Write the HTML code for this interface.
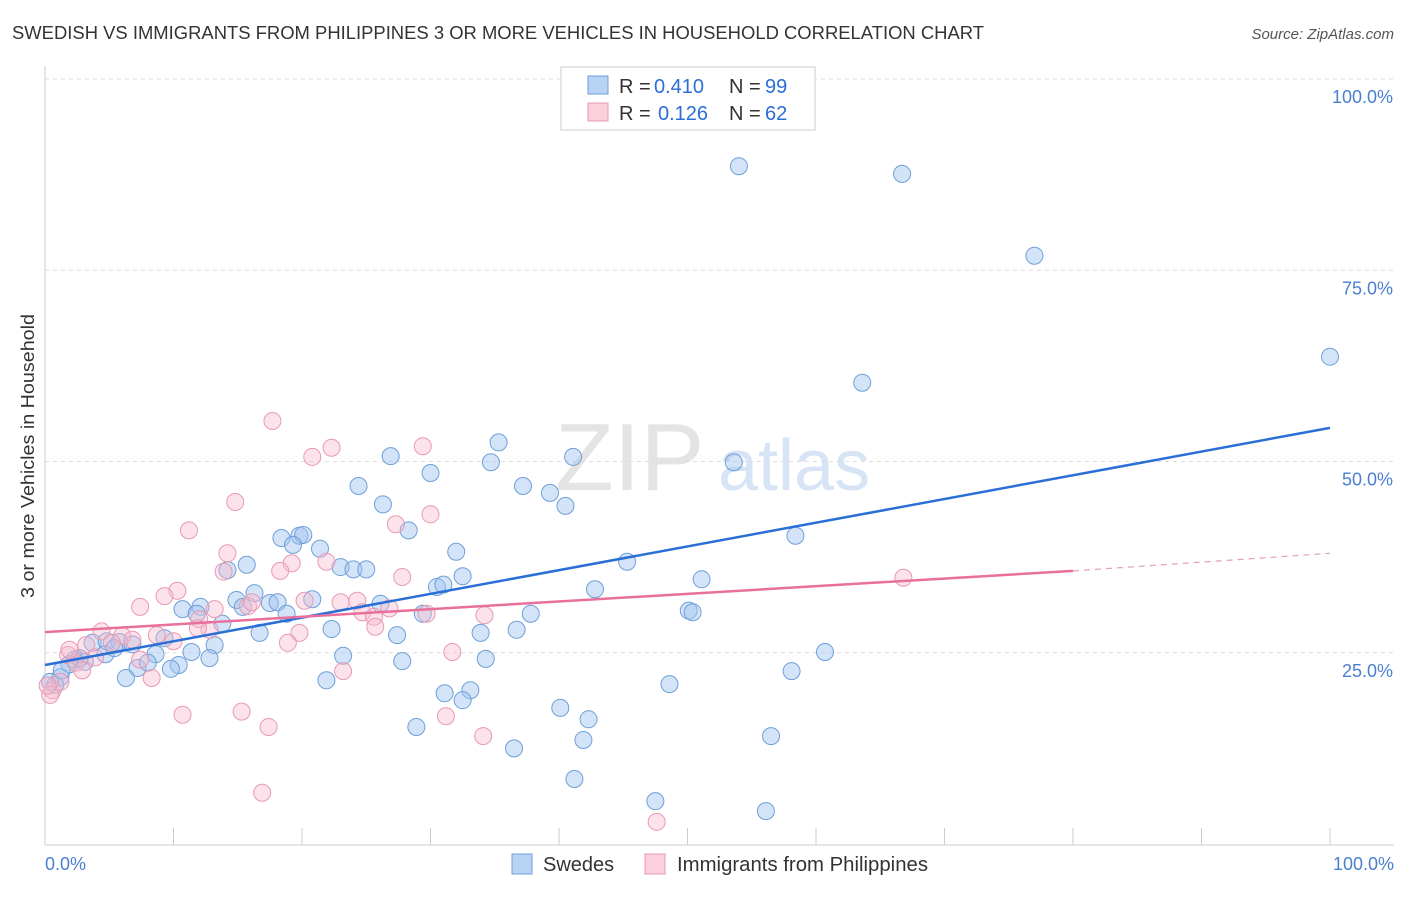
<!DOCTYPE html>
<html><head><meta charset="utf-8"><style>
body{margin:0;background:#fff;font-family:"Liberation Sans",sans-serif;}
svg text{font-family:"Liberation Sans",sans-serif;}
</style></head><body>
<svg width="1406" height="892" viewBox="0 0 1406 892">
<text x="12" y="39" font-size="18" fill="#333" textLength="972" lengthAdjust="spacingAndGlyphs">SWEDISH VS IMMIGRANTS FROM PHILIPPINES 3 OR MORE VEHICLES IN HOUSEHOLD CORRELATION CHART</text>
<text x="1394" y="39" font-size="15" fill="#555" text-anchor="end" font-style="italic">Source: ZipAtlas.com</text>
<g>
<text x="555" y="490" font-size="96" fill="#e4e4e4" font-family="Liberation Serif, serif">ZIP</text>
<text x="718" y="490" font-size="72" fill="#d6e4f5">atlas</text>
</g>
<g id="grid"></g>
<g id="axes"></g>
<g id="pts"></g>
<g id="lines"></g>
<text x="34" y="456" font-size="18" fill="#333" text-anchor="middle" transform="rotate(-90 34 456)" textLength="284" lengthAdjust="spacingAndGlyphs">3 or more Vehicles in Household</text>
<text x="45" y="870" font-size="18" fill="#4a7fd0">0.0%</text>
<text x="1394" y="870" font-size="18" fill="#4a7fd0" text-anchor="end">100.0%</text>
<g>
<rect x="561" y="67" width="254" height="63" fill="#fff" stroke="#ccc"/>
<rect x="588" y="76" width="20" height="18" fill="#b9d3f5" stroke="#6f9fd8"/>
<text x="619" y="93" font-size="20" fill="#333">R =</text>
<text x="654" y="93" font-size="20" fill="#2a6fd6">0.410</text>
<text x="729" y="93" font-size="20" fill="#333">N =</text>
<text x="765" y="93" font-size="20" fill="#2a6fd6">99</text>
<rect x="588" y="103" width="20" height="18" fill="#fbd0dc" stroke="#e89ab0"/>
<text x="619" y="120" font-size="20" fill="#333">R =</text>
<text x="658" y="120" font-size="20" fill="#2a6fd6">0.126</text>
<text x="729" y="120" font-size="20" fill="#333">N =</text>
<text x="765" y="120" font-size="20" fill="#2a6fd6">62</text>
</g>
<g>
<rect x="512" y="854" width="20" height="20" fill="#b9d3f5" stroke="#6f9fd8"/>
<text x="543" y="871" font-size="20" fill="#333">Swedes</text>
<rect x="645" y="854" width="20" height="20" fill="#fbd0dc" stroke="#e89ab0"/>
<text x="677" y="871" font-size="20" fill="#333" textLength="251" lengthAdjust="spacingAndGlyphs">Immigrants from Philippines</text>
</g>
</svg>
<script>
const yTicks=[25,50,75,100];
const xTicks=[0,10,20,30,40,50,60,70,80,90,100];
const bluePx=[[739,166],[902,174],[1035,256],[1330,357],[862,383],[499,442],[391,456],[491,462],[573,457],[734,462],[430,473],[523,486],[358,486],[550,493],[383,504],[566,506],[409,530],[796,536],[281,538],[299,536],[303,535],[293,545],[320,549],[456,552],[247,565],[228,570],[340,567],[353,569],[366,569],[462,576],[627,562],[702,579],[437,587],[443,585],[595,589],[254,593],[237,600],[270,603],[277,602],[312,599],[380,604],[183,609],[201,607],[243,607],[197,614],[287,614],[423,614],[531,614],[689,611],[693,612],[222,624],[331,629],[260,633],[397,635],[516,630],[481,633],[214,645],[165,638],[93,643],[107,641],[120,642],[133,644],[106,654],[115,648],[155,654],[191,652],[343,656],[486,659],[402,661],[825,652],[210,658],[138,668],[75,660],[85,662],[80,658],[70,664],[179,665],[171,669],[126,678],[61,677],[55,685],[50,682],[327,680],[669,684],[470,690],[445,693],[463,700],[560,708],[589,719],[417,727],[584,740],[771,736],[514,748],[575,779],[655,801],[766,811],[791,671],[148,663],[62,670]];
const pinkPx=[[272,421],[331,448],[312,457],[423,446],[235,502],[431,514],[396,524],[189,530],[227,553],[292,563],[223,572],[402,577],[326,562],[280,571],[177,591],[165,596],[214,609],[140,607],[248,606],[252,602],[305,601],[357,601],[390,608],[341,602],[363,612],[374,617],[427,614],[484,615],[199,619],[375,627],[102,631],[122,636],[133,640],[157,635],[174,641],[210,630],[299,633],[198,628],[288,643],[86,645],[112,643],[68,655],[95,657],[140,660],[76,663],[82,670],[53,690],[50,695],[152,678],[343,671],[452,652],[183,715],[241,712],[269,727],[446,716],[483,736],[262,793],[657,822],[903,578],[60,682],[48,686],[70,650]];
const blueX=bluePx.map(p=>+((p[0]-45)/12.85).toFixed(1));
const blueY=bluePx.map(p=>+((844-p[1])/7.65).toFixed(1));
const pinkX=pinkPx.map(p=>+((p[0]-45)/12.85).toFixed(1));
const pinkY=pinkPx.map(p=>+((844-p[1])/7.65).toFixed(1));
const blueTrend=[23.4,54.4];
const pinkTrend=[27.7,35.7,38.0];
const X=v=>45+v*12.85, Y=v=>844-v*7.65;
const NS="http://www.w3.org/2000/svg";
function mk(t,a,parent){const e=document.createElementNS(NS,t);for(const k in a)e.setAttribute(k,a[k]);document.getElementById(parent).appendChild(e);return e;}
yTicks.forEach(t=>{
 const l=mk('line',{x1:45,x2:1394,y1:Y(t),y2:Y(t),stroke:'#ddd','stroke-dasharray':'4,4'},'grid');
 
 
 const tx=mk('text',{x:1393,y:Y(t)+24,'font-size':18,fill:'#4a7fd0','text-anchor':'end'},'grid');
 tx.textContent=t.toFixed(1)+'%';
 
 
});
const ax=mk('line',{x1:45,x2:45,y1:66,y2:845,stroke:'#ccc'},'axes');


const bx=mk('line',{x1:45,x2:1394,y1:845,y2:845,stroke:'#ccc'},'axes');


xTicks.forEach(t=>{
 const l=mk('line',{x1:X(t),x2:X(t),y1:828,y2:845,stroke:'#ccc'},'axes');
 
 
});
blueX.forEach((v,i)=>{
 const c=mk('circle',{cx:X(v),cy:Y(blueY[i]),r:8.5,fill:'rgba(160,196,240,0.45)',stroke:'#6f9fd8','stroke-width':1},'pts');
 
 
});
pinkX.forEach((v,i)=>{
 const c=mk('circle',{cx:X(v),cy:Y(pinkY[i]),r:8.5,fill:'rgba(248,185,205,0.4)',stroke:'#e89ab0','stroke-width':1},'pts');
 
 
});
const b=mk('line',{x1:X(0),y1:Y(blueTrend[0]),x2:X(100),y2:Y(blueTrend[1]),stroke:'#2a6fd6','stroke-width':2.5},'lines');


const p=mk('line',{x1:X(0),y1:Y(pinkTrend[0]),x2:X(80),y2:Y(pinkTrend[1]),stroke:'#e8709a','stroke-width':2.5},'lines');


const pd=mk('line',{x1:X(80),y1:Y(pinkTrend[1]),x2:X(100),y2:Y(pinkTrend[2]),stroke:'#e8a0b8','stroke-width':1.2,'stroke-dasharray':'6,5'},'lines');


</script>
</body></html>
